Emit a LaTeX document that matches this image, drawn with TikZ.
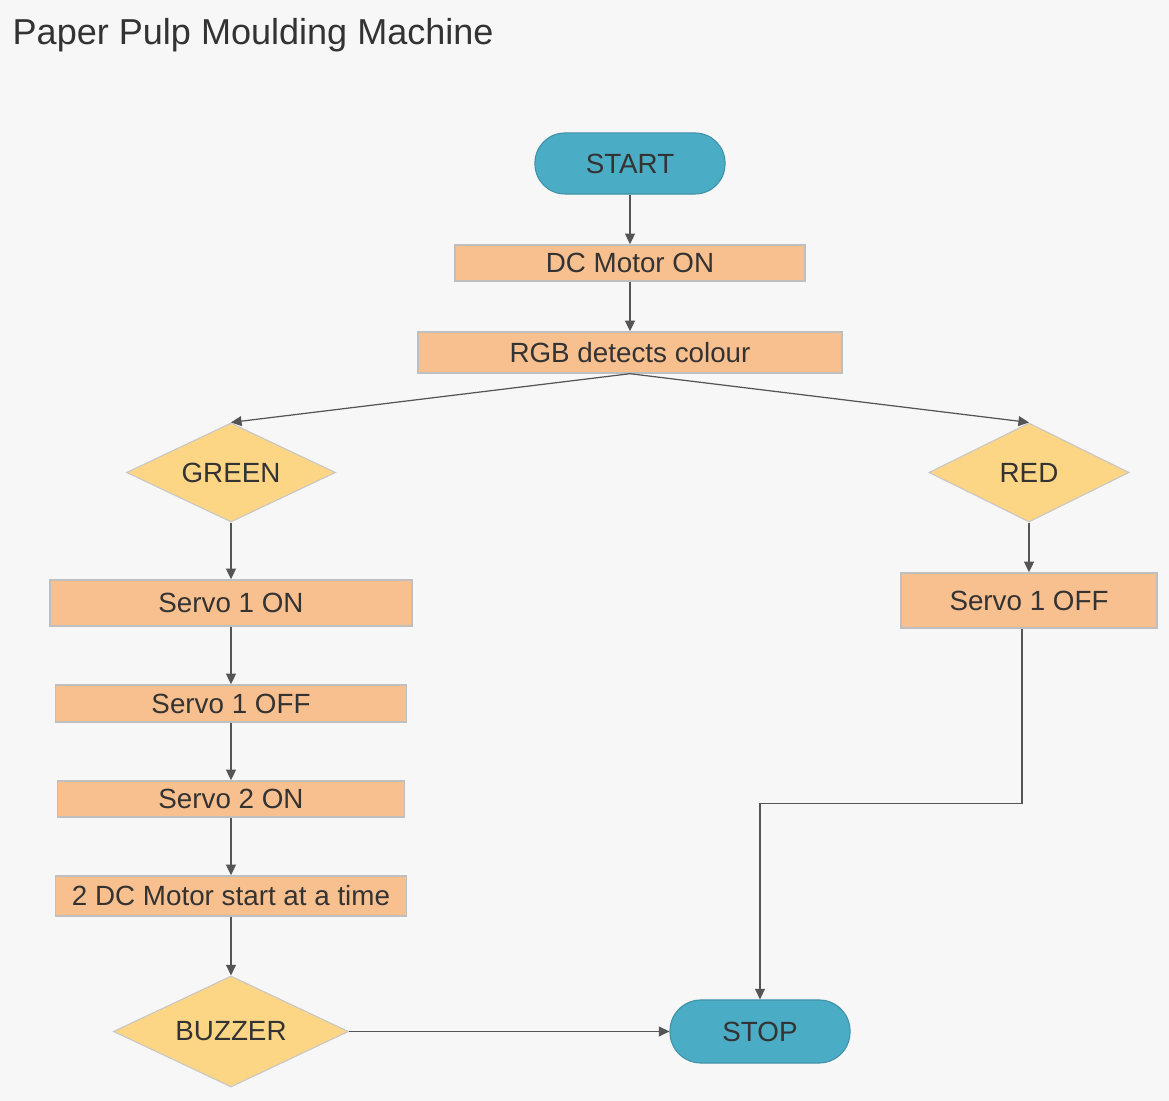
\documentclass[tikz,border=0pt]{standalone}
\usepackage{fontspec}
\setmainfont{Liberation Sans}
\usetikzlibrary{shapes.geometric,arrows.meta}

\definecolor{bgcol}{HTML}{F7F7F7}
\definecolor{termcol}{HTML}{4AACC5}
\definecolor{procol}{HTML}{F9C08F}
\definecolor{deccol}{HTML}{FCD585}
\definecolor{inkcol}{HTML}{333333}
\definecolor{linecol}{HTML}{555555}

\begin{document}
\begin{tikzpicture}[x=0.01cm,y=-0.01cm,
    every node/.style={text=inkcol,font=\fontsize{7.9}{9}\selectfont,inner sep=0pt},
    terminal/.style={draw=termcol!85!black,line width=0.3pt,fill=termcol,rounded corners=0.3cm},
    process/.style={draw=black!25,line width=0.4pt,fill=procol},
    decision/.style={diamond,draw=black!22,line width=0.3pt,fill=deccol,aspect=2},
    flow/.style={draw=linecol,line width=0.35pt,-{Triangle[length=3pt,width=2.8pt]}}]
    % Background:
    \fill[bgcol] (0,0) rectangle (1169,1101);
    \node[anchor=base west,font=\fontsize{10.25}{12}\selectfont] (title) at (12,45) {Paper Pulp Moulding Machine};
    % Nodes:
    \node[terminal,minimum width=1.9cm,minimum height=0.61cm] (start) at (630,163.5) {START};
    \node[process,minimum width=3.5cm,minimum height=0.36cm] (motor) at (630,263) {DC Motor ON};
    \node[process,minimum width=4.24cm,minimum height=0.41cm] (rgb) at (630,352.5) {RGB detects colour};
    \node[decision,minimum width=2.09cm,minimum height=0.99cm] (green) at (231,472.5) {GREEN};
    \node[decision,minimum width=2cm,minimum height=0.99cm] (red) at (1029,472.5) {RED};
    \node[process,minimum width=3.62cm,minimum height=0.46cm] (servoa) at (231,603) {Servo 1 ON};
    \node[process,minimum width=3.51cm,minimum height=0.37cm] (servob) at (231,703.5) {Servo 1 OFF};
    \node[process,minimum width=3.47cm,minimum height=0.36cm] (servoc) at (231,799) {Servo 2 ON};
    \node[process,minimum width=3.51cm,minimum height=0.4cm] (motors) at (231,896) {2 DC Motor start at a time};
    \node[decision,minimum width=2.35cm,minimum height=1.11cm] (buzzer) at (231,1031.5) {BUZZER};
    \node[process,minimum width=2.56cm,minimum height=0.55cm] (servor) at (1029,600.5) {Servo 1 OFF};
    \node[terminal,minimum width=1.8cm,minimum height=0.63cm,rounded corners=0.31cm] (stop) at (760,1031.5) {STOP};
    % Connectors:
    \draw[flow] (start) -- (motor);
    \draw[flow] (motor) -- (rgb);
    \draw[flow] (rgb.south) -- (green.north);
    \draw[flow] (rgb.south) -- (red.north);
    \draw[flow] (green) -- (servoa);
    \draw[flow] (servoa) -- (servob);
    \draw[flow] (servob) -- (servoc);
    \draw[flow] (servoc) -- (motors);
    \draw[flow] (motors) -- (buzzer);
    \draw[flow] (red) -- (servor);
    \draw[flow] (buzzer) -- (stop);
    \draw[flow] ([xshift=-0.07cm]servor.south) -- ++(0,175) -| (stop.north);
\end{tikzpicture}
\end{document}
